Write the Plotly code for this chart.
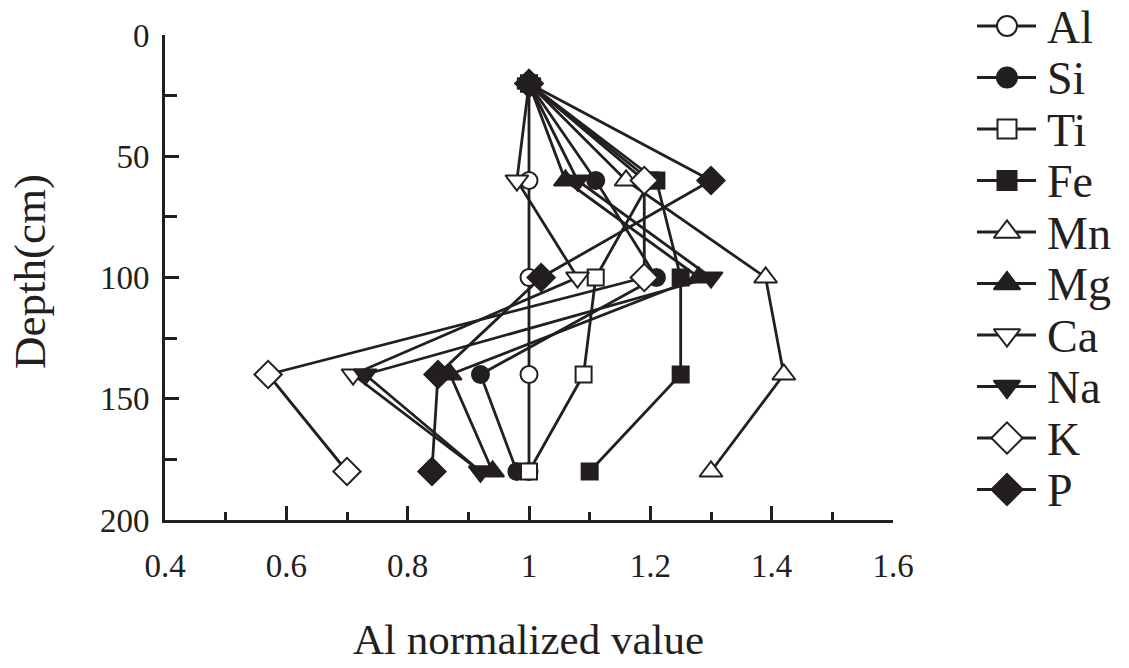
import plotly.graph_objects as go

depth = [20, 60, 100, 140, 180]
elements = ["Al", "Si", "Ti", "Fe", "Mn", "Mg", "Ca", "Na", "K", "P"]
Al = [1.00, 1.00, 1.00, 1.00, 1.00]
Si = [1.00, 1.11, 1.21, 0.92, 0.98]
Ti = [1.00, 1.20, 1.11, 1.09, 1.00]
Fe = [1.00, 1.21, 1.25, 1.25, 1.10]
Mn = [1.00, 1.16, 1.39, 1.42, 1.30]
Mg = [1.00, 1.06, 1.28, 0.87, 0.94]
Ca = [1.00, 0.98, 1.08, 0.71, 0.92]
Na = [1.00, 1.08, 1.30, 0.73, 0.92]
K = [1.00, 1.19, 1.19, 0.57, 0.70]
P = [1.00, 1.30, 1.02, 0.85, 0.84]
values = [Al, Si, Ti, Fe, Mn, Mg, Ca, Na, K, P]

symbols = ["circle-open", "circle", "square-open", "square", "triangle-up-open",
           "triangle-up", "triangle-down-open", "triangle-down", "diamond-open", "diamond"]
sizes = [17, 17, 16, 16, 20, 20, 20, 20, 21, 21]

W, H = 1129, 668
INK = "#231f20"
font = "Liberation Serif"

# plot-area placement in pixels
pl, pr, pt, pb = 165, 893, 35, 520

fig = go.Figure()
for name, vals, sym, sz in zip(elements, values, symbols, sizes):
    is_open = sym.endswith("-open")
    base = sym.replace("-open", "")
    fig.add_trace(go.Scatter(
        x=vals, y=depth, name=name, mode="lines+markers", showlegend=False,
        line=dict(color=INK, width=2.8),
        marker=dict(symbol=base, size=sz,
                    color="white" if is_open else INK,
                    line=dict(color=INK, width=2)),
        xaxis="x", yaxis="y",
    ))

# hand-built legend on an overlay pixel axis
row0, row_gap = 26, 51.5
line_x0, line_x1, mark_x, text_x = 977, 1036, 1007, 1045
annotations = []
for i, (name, sym, sz) in enumerate(zip(elements, symbols, sizes)):
    ry = row0 + row_gap * i
    is_open = sym.endswith("-open")
    base = sym.replace("-open", "")
    fig.add_trace(go.Scatter(
        x=[line_x0, line_x1], y=[ry, ry], mode="lines", showlegend=False,
        line=dict(color=INK, width=3), xaxis="x2", yaxis="y2", hoverinfo="skip"))
    fig.add_trace(go.Scatter(
        x=[mark_x], y=[ry], mode="markers", showlegend=False,
        marker=dict(symbol=base, size=sz + 3, color="white" if is_open else INK,
                    line=dict(color=INK, width=2)),
        xaxis="x2", yaxis="y2", hoverinfo="skip"))
    annotations.append(dict(x=text_x, y=ry + 1, xref="x2", yref="y2", text=name,
                            showarrow=False, xanchor="left", yanchor="middle",
                            font=dict(family=font, size=46, color=INK)))

annotations.append(dict(x=528 / W, y=(H - 639) / H, xref="paper", yref="paper",
                        text="Al normalized value", showarrow=False,
                        xanchor="center", yanchor="middle",
                        font=dict(family=font, size=43, color=INK)))
annotations.append(dict(x=30 / W, y=(H - 272) / H, xref="paper", yref="paper",
                        text="Depth(cm)", showarrow=False, textangle=-90,
                        xanchor="center", yanchor="middle",
                        font=dict(family=font, size=45, color=INK)))

fig.update_layout(
    width=W, height=H,
    paper_bgcolor="white", plot_bgcolor="rgba(0,0,0,0)",
    margin=dict(l=0, r=0, t=0, b=0),
    font=dict(family=font, color=INK, size=33),
    showlegend=False,
    annotations=annotations,
    xaxis=dict(domain=[pl / W, pr / W], range=[0.4, 1.6], dtick=0.2, tick0=0.4,
               showgrid=False, zeroline=False, automargin=False,
               showline=True, linecolor=INK, linewidth=3,
               ticks="inside", ticklen=14, tickwidth=3, tickcolor=INK,
               tickfont=dict(family=font, size=33, color=INK), tickformat="~g",
               ticklabelstandoff=14,
               minor=dict(dtick=0.1, tick0=0.4, ticks="inside", ticklen=8, tickwidth=3,
                          tickcolor=INK, showgrid=False)),
    yaxis=dict(domain=[(H - pb) / H, (H - pt) / H], range=[200, 0], dtick=50, tick0=0,
               showgrid=False, zeroline=False, automargin=False,
               showline=True, linecolor=INK, linewidth=3,
               ticks="inside", ticklen=14, tickwidth=3, tickcolor=INK,
               tickfont=dict(family=font, size=33, color=INK),
               ticklabelstandoff=6,
               minor=dict(dtick=25, tick0=0, ticks="inside", ticklen=12, tickwidth=3,
                          tickcolor=INK, showgrid=False)),
    xaxis2=dict(domain=[0, 1], range=[0, W], visible=False, fixedrange=True,
                anchor="y2"),
    yaxis2=dict(domain=[0, 1], range=[H, 0], visible=False, fixedrange=True,
                anchor="x2"),
)
fig.write_html("out.html", config={"displayModeBar": False},
               post_script="document.body.style.margin='0px';document.body.style.overflow='hidden';")
